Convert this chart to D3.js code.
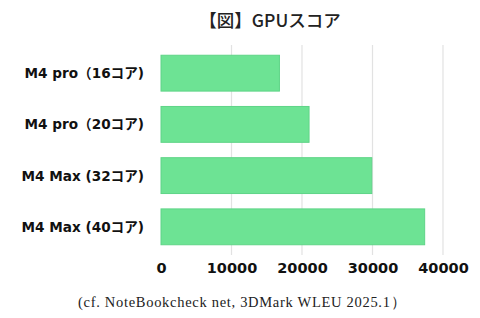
<!DOCTYPE html>
<html>
<head>
<meta charset="utf-8">
<script src="https://cdn.jsdelivr.net/npm/d3@7"></script>
<style>
body { margin: 0; background: #fff; }
svg { display: block; }
</style>
</head>
<body>
<svg id="chart" width="480" height="318"></svg>
<script>
var categories = ['M4 pro（16コア)', 'M4 pro（20コア)', 'M4 Max (32コア)', 'M4 Max (40コア)'];
var scores = [16800, 21000, 29900, 37400];
var ticks = [0, 10000, 20000, 30000, 40000];

var svg = d3.select('#chart');
var sans = '"Noto Sans CJK JP", "Noto Sans", sans-serif';
var wide = '"DejaVu Sans", "Noto Sans CJK JP", sans-serif';

var x = d3.scaleLinear().domain([0, 40000]).range([161, 443]);
var y = d3.scaleBand().domain(categories).range([45, 255]).paddingInner(0.3).paddingOuter(0.2);

// grid
svg.append('g').selectAll('line')
  .data(ticks.slice(1))
  .enter().append('line')
  .attr('x1', function(d) { return x(d); })
  .attr('x2', function(d) { return x(d); })
  .attr('y1', 45).attr('y2', 255)
  .style('stroke', '#e2e2e2').style('stroke-width', 1.2);

// bars
svg.append('g').selectAll('rect')
  .data(scores)
  .enter().append('rect')
  .attr('x', x(0))
  .attr('y', function(d, i) { return y(categories[i]); })
  .attr('width', function(d) { return x(d) - x(0); })
  .attr('height', y.bandwidth())
  .style('fill', '#6de394')
  .style('stroke', '#5fd487')
  .style('stroke-width', 1);

// category labels
svg.append('g').selectAll('text')
  .data(categories)
  .enter().append('text')
  .attr('x', 144)
  .attr('y', function(d) { return y(d) + y.bandwidth() / 2; })
  .attr('dy', '0.36em')
  .attr('text-anchor', 'end')
  .style('font-family', wide).style('font-weight', 'bold').style('font-size', '13.6px')
  .style('fill', '#111')
  .text(function(d) { return d; });

// x axis labels
var ax = svg.append('g').attr('transform', 'translate(0,268)')
  .call(d3.axisBottom(x).tickValues(ticks).tickSize(0).tickFormat(d3.format('d')));
ax.select('.domain').remove();
ax.selectAll('text')
  .attr('y', 0).attr('dy', '0.36em')
  .style('font-family', wide).style('font-weight', 'bold').style('font-size', '14.5px')
  .style('fill', '#111');

// title
svg.append('text')
  .attr('x', 270).attr('y', 27)
  .attr('text-anchor', 'middle')
  .style('font-family', sans).style('font-size', '17.5px').style('font-weight', '500')
  .style('fill', '#222')
  .text('【図】GPUスコア');

// footnote
svg.append('text')
  .attr('x', 78).attr('y', 307)
  .style('font-family', '"Liberation Serif", "DejaVu Serif", serif').style('font-size', '14.5px')
  .style('letter-spacing', '0.7px')
  .style('fill', '#222')
  .text('(cf. NoteBookcheck net, 3DMark WLEU 2025.1）');
</script>
</body>
</html>
